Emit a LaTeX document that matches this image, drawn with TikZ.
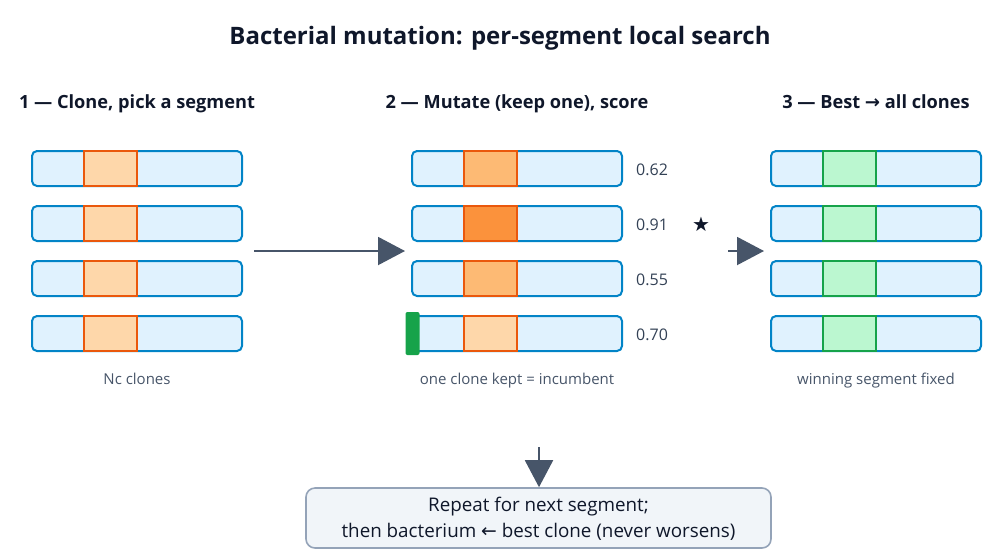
\documentclass[tikz,border=0pt]{standalone}
\usepackage{fontspec}
\setmainfont{Open Sans}
\newfontfamily\symfont{DejaVu Sans}
\usetikzlibrary{arrows.meta}
\definecolor{barfill}{HTML}{E0F2FE}
\definecolor{barline}{HTML}{0284C7}
\definecolor{seglight}{HTML}{FED7AA}
\definecolor{segmid}{HTML}{FDBA74}
\definecolor{segdark}{HTML}{FB923C}
\definecolor{segline}{HTML}{EA580C}
\definecolor{greenfill}{HTML}{BBF7D0}
\definecolor{greenline}{HTML}{16A34A}
\definecolor{ink}{HTML}{0F172A}
\definecolor{numink}{HTML}{334155}
\definecolor{capink}{HTML}{475569}
\definecolor{arrowc}{HTML}{475569}
\definecolor{boxfill}{HTML}{F1F5F9}
\definecolor{boxline}{HTML}{94A3B8}
\tikzset{
  bar/.style={draw=barline, fill=barfill, line width=2pt, rounded corners=5pt, minimum width=210pt, minimum height=35pt, inner sep=0pt},
  seg/.style={draw=segline, line width=2pt, minimum width=53pt, minimum height=35pt, inner sep=0pt},
  gseg/.style={draw=greenline, fill=greenfill, line width=2pt, minimum width=53pt, minimum height=35pt, inner sep=0pt},
  marker/.style={fill=greenline, rounded corners=2pt, minimum width=14pt, minimum height=43pt, inner sep=0pt},
  titletext/.style={font=\fontsize{24}{28}\selectfont\bfseries, text=ink, anchor=base, inner sep=0pt},
  headtext/.style={font=\fontsize{18.2}{22}\selectfont\bfseries, text=ink, anchor=base, inner sep=0pt},
  numtext/.style={font=\fontsize{16}{19}\selectfont, text=numink, anchor=base west, inner sep=0pt},
  captext/.style={font=\fontsize{15}{18}\selectfont, text=capink, anchor=base, inner sep=0pt},
  flow/.style={draw=arrowc, line width=2pt, -{Triangle[length=27pt,width=28pt]}},
  notebox/.style={draw=boxline, fill=boxfill, line width=1.6pt, rounded corners=9pt, minimum width=465pt, minimum height=60pt, align=center, font=\fontsize{18.8}{26}\selectfont, text=ink, inner sep=0pt},
}
\begin{document}
\begin{tikzpicture}[x=1pt,y=-1pt]
\useasboundingbox (0,0) rectangle (1000,558);
\node[titletext] (title) at (500,44) {Bacterial mutation: per-segment local search};
\node[headtext] (h1) at (137,108) {1 — Clone, pick a segment};
\node[headtext] (h2) at (517,108) {2 — Mutate (keep one), score};
\node[headtext] (h3) at (876,108) {3 — Best {\symfont →} all clones};
% column 1
\foreach \i/\y in {1/168.5,2/223.5,3/278.5,4/333.5}{
  \node[bar] (a\i) at (137,\y) {};
  \node[seg, fill=seglight] (as\i) at (110.5,\y) {};
}
% column 2
\node[bar] (b1) at (517,168.5) {};
\node[seg, fill=segmid] (bs1) at (490.5,168.5) {};
\node[bar] (b2) at (517,223.5) {};
\node[seg, fill=segdark] (bs2) at (490.5,223.5) {};
\node[bar] (b3) at (517,278.5) {};
\node[seg, fill=segmid] (bs3) at (490.5,278.5) {};
\node[bar] (b4) at (517,333.5) {};
\node[seg, fill=seglight] (bs4) at (490.5,333.5) {};
\node[marker] (mk) at (412.5,333.5) {};
\node[numtext] (n1) at (636,175) {0.62};
\node[numtext] (n2) at (636,230) {0.91};
\node[numtext] (n3) at (636,285) {0.55};
\node[numtext] (n4) at (636,340) {0.70};
\node[font=\fontsize{20}{24}\selectfont\symfont, text=ink, anchor=base, inner sep=0pt] (star) at (701,231) {★};
% column 3
\foreach \i/\y in {1/168.5,2/223.5,3/278.5,4/333.5}{
  \node[bar] (c\i) at (876,\y) {};
  \node[gseg] (cs\i) at (849.5,\y) {};
}
% captions
\node[captext] (cap1) at (137,384.5) {Nc clones};
\node[captext] (cap2) at (517,384.5) {one clone kept = incumbent};
\node[captext] (cap3) at (876,384.5) {winning segment fixed};
% arrows
\coordinate (p1) at (254,251);
\coordinate (q1) at (405,251);
\coordinate (p2) at (728,251);
\coordinate (q2) at (764,251);
\coordinate (p3) at (539,447);
\node[notebox] (box) at (538.5,518) {\rule{0pt}{16pt}Repeat for next segment;\\then bacterium {\symfont ←} best clone (never worsens)};
\draw[flow] (p1) -- (q1);
\draw[flow] (p2) -- (q2);
\draw[flow] (p3) -- (p3 |- box.north);
\end{tikzpicture}
\end{document}
